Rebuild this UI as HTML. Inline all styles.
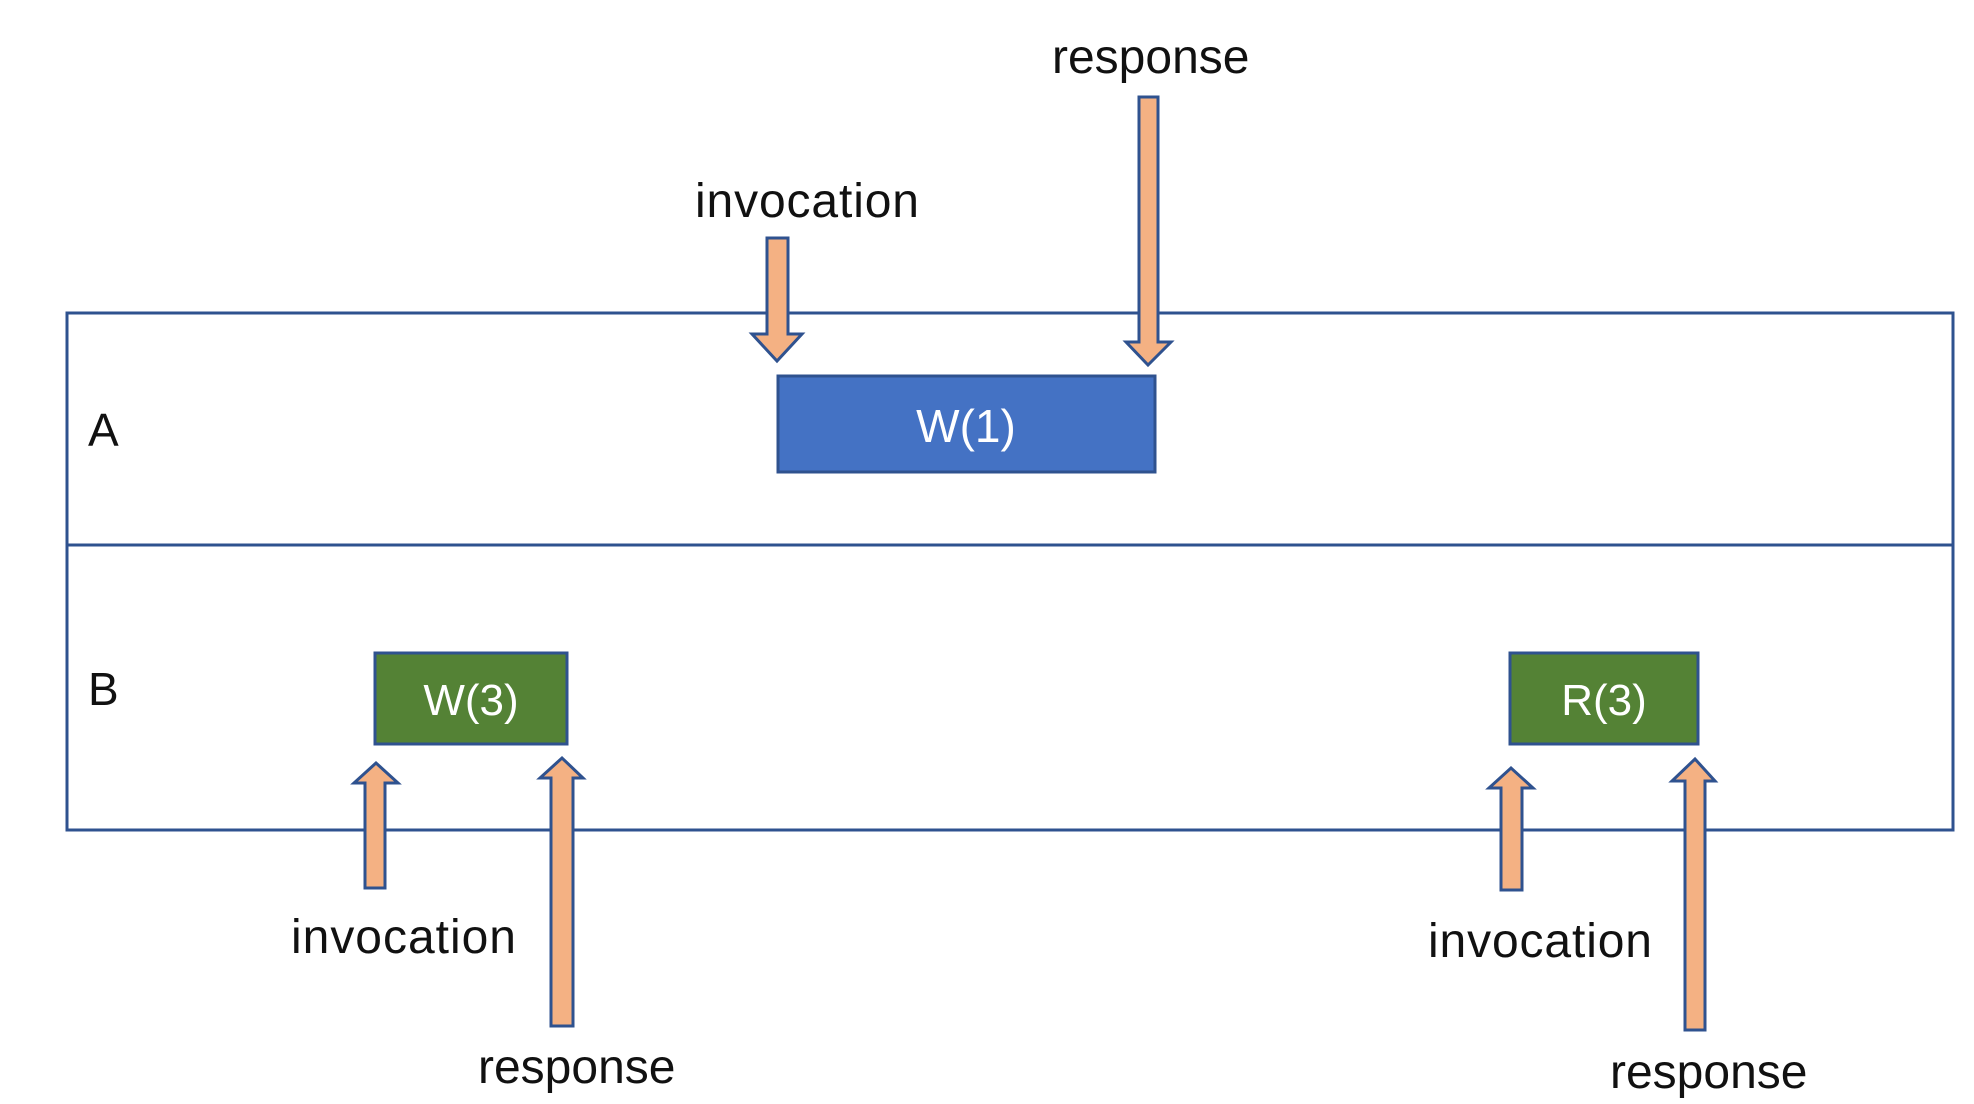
<!DOCTYPE html>
<html><head><meta charset="utf-8"><style>html,body{margin:0;padding:0;background:#fff}svg{display:block}text{font-family:"Liberation Sans",sans-serif;}</style></head>
<body>
<svg width="1974" height="1104" viewBox="0 0 1974 1104" xmlns="http://www.w3.org/2000/svg">
<g fill="none" stroke="#2F528F" stroke-width="3">
<rect x="67" y="313" width="1886" height="517"/>
<line x1="67" y1="545" x2="1953" y2="545"/>
</g>
<text x="88" y="446" font-size="46" fill="#111">A</text>
<text x="88" y="705" font-size="46" fill="#111">B</text>
<rect x="778" y="376" width="377" height="96" fill="#4472C4" stroke="#2F528F" stroke-width="3"/>
<text x="966" y="442" font-size="46" fill="#fff" text-anchor="middle">W(1)</text>
<rect x="375" y="653" width="192" height="91" fill="#548235" stroke="#2F528F" stroke-width="3"/>
<text x="471" y="715" font-size="44" fill="#fff" text-anchor="middle">W(3)</text>
<rect x="1510" y="653" width="188" height="91" fill="#548235" stroke="#2F528F" stroke-width="3"/>
<text x="1604" y="715" font-size="44" fill="#fff" text-anchor="middle">R(3)</text>
<g fill="#F4B183" stroke="#2F528F" stroke-width="3" stroke-linejoin="miter">
<polygon points="767,238 788,238 788,334 802,334 777,361 752,334 767,334"/>
<polygon points="1139,97 1158,97 1158,342 1171,342 1148,365 1126,342 1139,342"/>
<polygon points="365,888 385,888 385,783 398,783 376,763 354,783 365,783"/>
<polygon points="551,1026 573,1026 573,778 583,778 562,758 540,778 551,778"/>
<polygon points="1501,890 1522,890 1522,788 1533,788 1511,768 1489,788 1501,788"/>
<polygon points="1685,1030 1705,1030 1705,781 1715,781 1695,759 1672,781 1685,781"/>
</g>
<g font-size="48" fill="#111">
<text x="1052" y="73">response</text>
<text x="695" y="217" textLength="224" lengthAdjust="spacing">invocation</text>
<text x="291" y="953" textLength="225" lengthAdjust="spacing">invocation</text>
<text x="478" y="1083">response</text>
<text x="1428" y="957" textLength="224" lengthAdjust="spacing">invocation</text>
<text x="1610" y="1088">response</text>
</g>
</svg>
</body></html>
